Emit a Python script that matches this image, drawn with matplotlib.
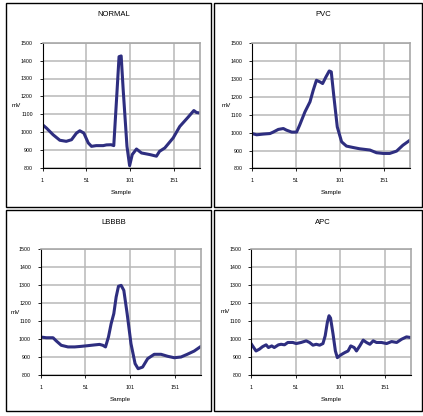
import matplotlib
matplotlib.use("Agg")
import matplotlib.pyplot as plt
from matplotlib.patches import Rectangle

plt.rcParams['font.family'] = ['Liberation Sans', 'DejaVu Sans']

# values (sample index, mV)
normal_x = [1, 5.5, 13, 20.7, 28, 34, 39.6, 43.4, 48, 53, 56.7, 62, 70, 73.7, 79, 82,
            85.8, 88, 90.4, 92.7, 97, 100, 103, 107.8, 113.5, 123, 130.5, 134, 140,
            149.5, 157, 166.5, 173, 176, 180]
normal_y = [1042, 1023, 986, 955, 949, 958, 995, 1008, 995, 940, 921, 925, 925, 929, 930,
            925, 1237, 1422, 1426, 1237, 921, 813, 875, 906, 884, 875, 866, 893, 912,
            968, 1032, 1084, 1121, 1110, 1107]

pvc_x = [1, 6.3, 13.8, 21.4, 25, 30.8, 36.5, 40, 46, 51.5, 55, 61, 66.7, 70.4, 74, 78,
         81, 84.8, 88.5, 90.8, 93.8, 97.6, 102.5, 108, 115.7, 123, 134.6, 142, 149.7,
         157, 164.8, 172, 180]
pvc_y = [995, 988, 992, 995, 1003, 1018, 1023, 1014, 1003, 1003, 1042, 1116, 1172, 1237,
         1292, 1283, 1274, 1311, 1344, 1339, 1199, 1032, 949, 925, 917, 910, 903, 888,
         884, 884, 897, 930, 958]

lbbb_x = [1, 7.3, 14.8, 18.5, 24, 31.5, 39, 46, 53.8, 61, 66.8, 70.5, 73.5, 76.8, 79.8,
          82.8, 85.4, 88, 91, 94, 97.7, 102, 106.6, 110, 115, 120.7, 128, 135.6, 143,
          150.4, 158, 165, 172.7, 179.4]
lbbb_y = [1011, 1007, 1007, 989, 965, 956, 956, 959, 963, 967, 970, 965, 956, 1011, 1085,
          1141, 1233, 1293, 1298, 1270, 1141, 974, 863, 835, 844, 891, 915, 915, 904,
          896, 900, 915, 933, 956]

apc_x = [1, 4, 6.6, 10.4, 14, 17.9, 20.5, 24.2, 27, 31.7, 34.7, 38.5, 42.2, 47.8, 51.6,
         57, 62.8, 66.5, 70.3, 74, 77.8, 81.5, 84, 86.4, 88.3, 90, 92.8, 95.4, 97.6,
         101.4, 105.9, 109.6, 112.6, 116.4, 119, 122.7, 126.5, 130.2, 134, 137.7,
         141.4, 147, 152.7, 158.3, 164, 169.5, 175, 180]
apc_y = [974, 952, 933, 943, 957, 967, 952, 961, 952, 967, 970, 967, 980, 980, 974, 980,
         989, 980, 965, 970, 965, 974, 1017, 1091, 1128, 1115, 1026, 933, 896, 911, 924,
         933, 961, 952, 933, 961, 993, 980, 970, 989, 980, 980, 974, 985, 980, 998,
         1011, 1007]

titles = ['NORMAL', 'PVC', 'LBBBB', 'APC']
xticks = [1, 51, 101, 151]
yticks = [800, 900, 1000, 1100, 1200, 1300, 1400, 1500]

W, H = 423, 416
fig = plt.figure(figsize=(W / 100, H / 100), dpi=100)

# pixel boxes: (left, top, right, bottom)
frames = [(6, 3, 211, 207), (214, 3, 422, 207), (6, 210, 211, 411), (214, 210, 422, 411)]
axes_px = [(42.5, 42.7, 200, 168), (252, 43, 410, 168.5),
           (40.7, 249, 200.7, 375), (251, 248.5, 411, 375)]
series = [(normal_x, normal_y), (pvc_x, pvc_y), (lbbb_x, lbbb_y), (apc_x, apc_y)]

for (l, t, r, b) in frames:
    fig.patches.append(Rectangle((l / W, 1 - b / H), (r - l) / W, (b - t) / H,
                                 transform=fig.transFigure, fill=False,
                                 edgecolor='black', linewidth=1.0))

for i, (l, t, r, b) in enumerate(axes_px):
    ax = fig.add_axes([l / W, 1 - b / H, (r - l) / W, (b - t) / H])
    xs, ys = series[i]
    ax.plot(xs, ys, color='#2e2e80', linewidth=2.2, solid_joinstyle='round')
    ax.set_xlim(1, 180)
    ax.set_ylim(800, 1500)
    ax.set_xticks(xticks)
    ax.set_yticks(yticks)
    ax.tick_params(labelsize=3.8, length=2, width=0.6, pad=5)
    ax.grid(True, color='#b8b8b8', linewidth=1.1)
    ax.set_axisbelow(True)
    for s in ['top', 'right']:
        ax.spines[s].set_color('#a8a8a8')
        ax.spines[s].set_linewidth(1.2)
    for s in ['left', 'bottom']:
        ax.spines[s].set_color('black')
        ax.spines[s].set_linewidth(0.8)
    ax.set_xlabel('Sample', fontsize=4.5, labelpad=5)
    ax.set_ylabel('mV', fontsize=4.5, rotation=0, labelpad=3, va='center')
    fl, ft, fr, fb = frames[i]
    fig.text(((fl + fr) / 2 + 5) / W, 1 - (ft + 12) / H, titles[i],
             fontsize=5.5, ha='center', va='center')

fig.savefig('out.png', dpi=100)
